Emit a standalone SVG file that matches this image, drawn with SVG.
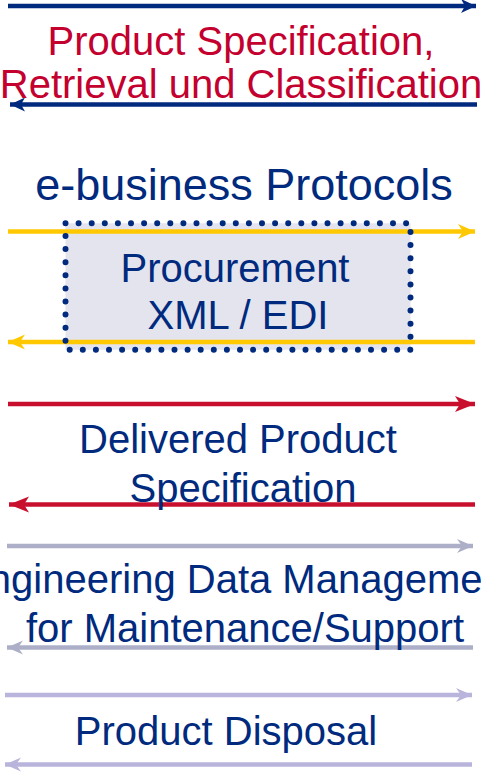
<svg xmlns="http://www.w3.org/2000/svg" width="481" height="774" viewBox="0 0 481 774">
<style>
  .t { font-family: "Liberation Sans", Arial, sans-serif; font-size: 40px; text-anchor: middle; }
  .big { font-size: 45px; }
  .navy { fill: #002A7E; }
  .red { fill: #C4002F; }
  .ln { fill: none; stroke-width: 4.5; }
</style>
<defs>
  <marker id="hNavy" markerUnits="userSpaceOnUse" markerWidth="24" markerHeight="20" viewBox="-18 -10 20 20" refX="0" refY="0" orient="auto">
    <path d="M0,0 L-15,-7 L-11,0 L-15,7 Z" fill="#002A7E"/>
  </marker>
  <marker id="hYel" markerUnits="userSpaceOnUse" markerWidth="24" markerHeight="20" viewBox="-20 -10 22 20" refX="0" refY="0" orient="auto">
    <path d="M0,0 L-17,-7.5 L-12,0 L-17,7.5 Z" fill="#FFC800"/>
  </marker>
  <marker id="hRed" markerUnits="userSpaceOnUse" markerWidth="26" markerHeight="20" viewBox="-23 -10 25 20" refX="0" refY="0" orient="auto">
    <path d="M0,0 L-20,-8 L-15,0 L-20,8 Z" fill="#C8102E"/>
  </marker>
  <marker id="hGray" markerUnits="userSpaceOnUse" markerWidth="24" markerHeight="20" viewBox="-18 -10 20 20" refX="0" refY="0" orient="auto">
    <path d="M0,0 L-16,-7 L-11,0 L-16,7 Z" fill="#ADAFC8"/>
  </marker>
  <marker id="hLav" markerUnits="userSpaceOnUse" markerWidth="24" markerHeight="20" viewBox="-18 -10 20 20" refX="0" refY="0" orient="auto">
    <path d="M0,0 L-16,-7 L-11,0 L-16,7 Z" fill="#B8B4DC"/>
  </marker>
</defs>

<g id="procurement-box">
  <rect x="65.5" y="223.3" width="345" height="126.4" fill="#E3E4EE"/>
</g>

<g id="connectors">
  <line class="ln" x1="8" y1="6" x2="476" y2="6" stroke="#002A7E" marker-end="url(#hNavy)"/>
  <line class="ln" x1="477" y1="104.5" x2="10" y2="104.5" stroke="#002A7E" marker-end="url(#hNavy)"/>
  <line class="ln" x1="8" y1="231.5" x2="475" y2="231.5" stroke="#FFC800" marker-end="url(#hYel)"/>
  <line class="ln" x1="475" y1="342" x2="8" y2="342" stroke="#FFC800" marker-end="url(#hYel)"/>
  <line class="ln" x1="8" y1="404" x2="475" y2="404" stroke="#C8102E" marker-end="url(#hRed)"/>
  <line class="ln" x1="475" y1="504.5" x2="9" y2="504.5" stroke="#C8102E" marker-end="url(#hRed)"/>
  <line class="ln" x1="7" y1="546" x2="473" y2="546" stroke="#ADAFC8" marker-end="url(#hGray)"/>
  <line class="ln" x1="473" y1="647.5" x2="7" y2="647.5" stroke="#ADAFC8" marker-end="url(#hGray)"/>
  <line class="ln" x1="5" y1="695" x2="472" y2="695" stroke="#B8B4DC" marker-end="url(#hLav)"/>
  <line class="ln" x1="472" y1="764.5" x2="5" y2="764.5" stroke="#B8B4DC" marker-end="url(#hLav)"/>
</g>

<g id="procurement-border">
  <rect x="65.5" y="223.3" width="345" height="126.4" fill="none" stroke="#002A7E" stroke-width="6" stroke-linecap="round" stroke-dasharray="0 13.1"/>
</g>

<g id="product-specification">
  <text class="t red" x="241" y="55">Product Specification,</text>
  <text class="t red" x="241" y="98">Retrieval und Classification</text>
</g>
<g id="e-business">
  <text class="t big navy" x="244" y="199.5">e-business Protocols</text>
</g>
<g id="procurement">
  <text class="t navy" x="235" y="282">Procurement</text>
  <text class="t navy" x="238" y="329">XML / EDI</text>
</g>
<g id="delivered">
  <text class="t navy" x="238" y="453">Delivered Product</text>
  <text class="t navy" x="243" y="502">Specification</text>
</g>
<g id="engineering">
  <text class="t navy" x="239" y="593">Engineering Data Management</text>
  <text class="t navy" x="245" y="642">for Maintenance/Support</text>
</g>
<g id="disposal">
  <text class="t navy" x="226" y="745">Product Disposal</text>
</g>
</svg>
